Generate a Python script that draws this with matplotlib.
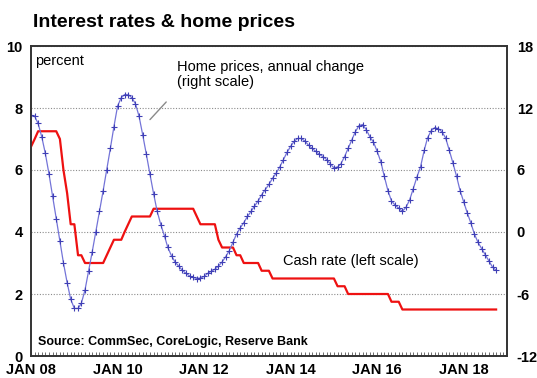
import pandas as pd
import matplotlib
matplotlib.use('Agg')
from matplotlib import pyplot as plt
import matplotlib.dates as mdates

plt.rcParams['font.family'] = ['Liberation Sans', 'DejaVu Sans']
plt.rcParams['axes.unicode_minus'] = False

# monthly, Jan 2008 - Oct 2018
months = pd.date_range('2008-01-01', periods=130, freq='MS')

# RBA cash rate, % (left scale)
cash_rate = ([6.75, 7.0, 7.25, 7.25, 7.25, 7.25, 7.25, 7.25, 7.0, 6.0, 5.25, 4.25]
             + [4.25, 3.25, 3.25, 3.0, 3.0, 3.0, 3.0, 3.0, 3.0, 3.25, 3.5, 3.75]
             + [3.75, 3.75, 4.0, 4.25, 4.5, 4.5, 4.5, 4.5, 4.5, 4.5, 4.75, 4.75]
             + [4.75] * 10 + [4.5, 4.25]
             + [4.25] * 4 + [3.75, 3.5, 3.5, 3.5, 3.5, 3.25, 3.25, 3.0]
             + [3.0] * 4 + [2.75, 2.75, 2.75, 2.5, 2.5, 2.5, 2.5, 2.5]
             + [2.5] * 12
             + [2.5, 2.25, 2.25, 2.25] + [2.0] * 8
             + [2.0] * 4 + [1.75, 1.75, 1.75] + [1.5] * 5
             + [1.5] * 12
             + [1.5] * 10)

# home prices, annual % change (right scale)
home_prices = [11.3, 11.2, 10.5, 9.2, 7.6, 5.6, 3.5, 1.3, -0.9, -3.0, -4.9, -6.5,
               -7.4, -7.4, -6.9, -5.6, -3.8, -1.9, 0.0, 2.0, 4.0, 6.0, 8.1, 10.2,
               12.2, 13.0, 13.3, 13.3, 13.0, 12.4, 11.2, 9.4, 7.5, 5.6, 3.7, 2.0,
               0.7, -0.4, -1.5, -2.3, -2.9, -3.3, -3.7, -4.0, -4.25, -4.4, -4.5, -4.45,
               -4.3, -4.0, -3.8, -3.6, -3.3, -2.9, -2.4, -1.8, -1.0, -0.2, 0.4, 0.9,
               1.5, 2.0, 2.5, 3.0, 3.6, 4.1, 4.6, 5.2, 5.7, 6.3, 7.0, 7.7,
               8.3, 8.8, 9.05, 9.05, 8.8, 8.4, 8.1, 7.8, 7.5, 7.3, 7.0, 6.6,
               6.2, 6.3, 6.6, 7.3, 8.1, 8.9, 9.7, 10.3, 10.4, 9.9, 9.2, 8.7,
               7.8, 6.8, 5.4, 4.0, 3.0, 2.6, 2.3, 2.0, 2.4, 3.1, 4.2, 5.3,
               6.3, 7.9, 9.1, 9.8, 10.1, 10.0, 9.7, 9.1, 7.9, 6.7, 5.4, 4.0,
               2.9, 1.8, 0.9, -0.2, -1.0, -1.6, -2.2, -2.8, -3.4, -3.7]

left_ticks = [0, 2, 4, 6, 8, 10]
right_ticks = [-12, -6, 0, 6, 12, 18]

fig = plt.figure(figsize=(5.37, 3.78), dpi=100)
ax = fig.add_axes([31 / 537, 1 - 356 / 378, 476 / 537, 310 / 378])
ax2 = ax.twinx()

ax.plot(months, cash_rate, color='#ee1111', lw=1.6, zorder=3)
ax2.plot(months, home_prices, color='#7474d8', lw=0.9,
         marker='+', ms=5, mew=0.8, mec='#3f3fb5', zorder=2)

ax.set_ylim(0, 10)
ax.set_yticks(left_ticks)
ax2.set_ylim(-12, 18)
ax2.set_yticks(right_ticks)
ax.set_xlim(pd.Timestamp('2008-01-01'), pd.Timestamp('2019-01-01'))

ax.grid(axis='y', color='#8c8c8c', lw=0.8, linestyle=(0, (1, 1.5)))
ax.set_axisbelow(True)

ax.xaxis.set_major_locator(mdates.YearLocator(2))
ax.xaxis.set_major_formatter(mdates.DateFormatter('JAN %y'))
ax.xaxis.set_minor_locator(mdates.MonthLocator())
ax.tick_params(axis='x', which='both', direction='in', length=3, width=0.6,
               color='#555555', pad=5)
ax.tick_params(axis='y', length=0, pad=6)
ax2.tick_params(axis='y', length=0, pad=7)

for lab in ax.get_xticklabels() + ax.get_yticklabels() + ax2.get_yticklabels():
    lab.set_fontweight('bold')
    lab.set_fontsize(10.5)

for a in (ax, ax2):
    for s in a.spines.values():
        s.set_color('#333333')
        s.set_linewidth(1.2)

fig.text(33 / 537, 1 - 27 / 378, 'Interest rates & home prices',
         fontsize=14, fontweight='bold', va='baseline')

ax.text(0.009, 0.938, 'percent', transform=ax.transAxes, fontsize=10.5,
        va='baseline')
ax.text(0.307, 0.908, 'Home prices, annual change\n(right scale)',
        transform=ax.transAxes, fontsize=10.5, va='center', linespacing=1.15)
ax.annotate('', xy=(0.246, 0.756), xytext=(0.288, 0.826),
            xycoords='axes fraction',
            arrowprops=dict(arrowstyle='-', color='#8a8a8a', lw=1))
ax.text(0.529, 0.2935, 'Cash rate (left scale)', transform=ax.transAxes,
        fontsize=10.5, va='baseline')
ax.text(0.014, 0.0355, 'Source: CommSec, CoreLogic, Reserve Bank',
        transform=ax.transAxes, fontsize=9, fontweight='bold', va='baseline')

plt.savefig('out.png', dpi=100)
